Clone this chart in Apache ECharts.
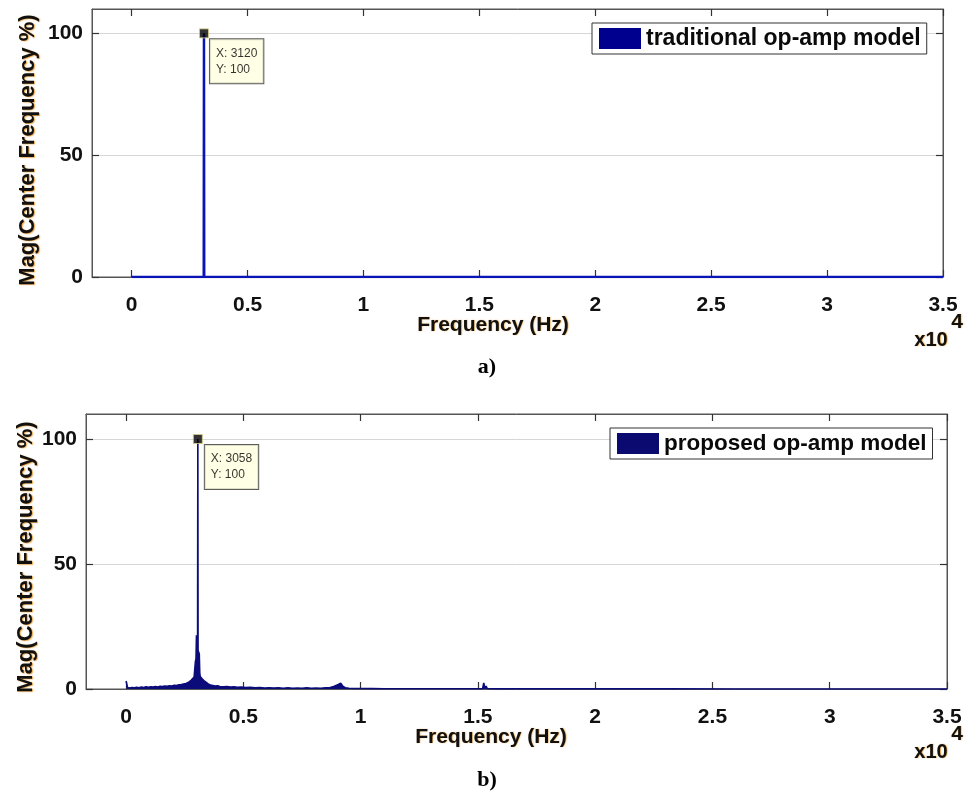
<!DOCTYPE html>
<html>
<head>
<meta charset="utf-8">
<script src="https://cdn.jsdelivr.net/npm/echarts@6/dist/echarts.min.js"></script>
<style>
html,body{margin:0;padding:0;background:#fff;}
#chart{width:973px;height:801px;}
</style>
</head>
<body>
<div id="chart"></div>
<script>
// ---- data ----
const seriesNames = ['traditional op-amp model', 'proposed op-amp model'];
const xTickValues = [0, 5000, 10000, 15000, 20000, 25000, 30000, 35000];
const yTickValues = [0, 50, 100];

// (a) traditional op-amp model spectrum
const freqA = [0, 3110, 3120, 3130, 9380, 9400, 9420, 15580, 15600, 15620, 35000];
const magA  = [0, 0, 100, 0, 0, 0.8, 0, 0, 0.5, 0, 0];
const peakA = [3120, 100];

// (b) proposed op-amp model spectrum
const freqB = [0, 20, 60, 150, 250, 350, 450, 550, 650, 750, 850, 950, 1050, 1150, 1250, 1350, 1450, 1550, 1650, 1750,
  1850, 1950, 2050, 2150, 2250, 2350, 2450, 2550, 2650, 2720, 2780, 2840, 2900, 2930, 2955, 2980, 2992, 3000, 3035, 3047, 3058,
  3068, 3080, 3120, 3140, 3160, 3200, 3250, 3300, 3360, 3420, 3500, 3600, 3700, 3800, 3900, 4000, 4150, 4300, 4450, 4600,
  4750, 4900, 5100, 5300, 5500, 5700, 5900, 6100, 6300, 6500, 6700, 6900, 7100, 7300, 7500, 7700, 7900, 8100, 8300, 8500,
  8700, 8850, 8950, 9050, 9150, 9200, 9250, 9350, 9500, 9700, 10000, 10500, 11000, 12000, 13000, 14000, 15000, 15200, 15250, 15300,
  15350, 15400, 16000, 18000, 20000, 21250, 21300, 21350, 23000, 26000, 30000, 33450, 33500, 33550, 35000];
const magB = [3.2, 3.0, 0.6, 0.4, 0.6, 0.5, 0.7, 0.5, 0.8, 0.6, 0.9, 0.7, 0.9, 0.8, 1.0, 0.8, 1.1, 1.0, 1.2, 1.1,
  1.3, 1.2, 1.5, 1.4, 1.7, 1.8, 2.0, 2.2, 2.6, 3.0, 3.6, 4.2, 4.8, 5.5, 11.0, 12.0, 12.0, 21.5, 20.5, 12.0, 100,
  15.5, 15.5, 14.0, 6.5, 5.0, 4.5, 4.0, 3.5, 3.0, 2.5, 2.0, 1.6, 1.4, 1.2, 1.3, 1.0, 0.9, 1.0, 0.8, 0.9,
  0.7, 0.8, 0.6, 0.7, 0.5, 0.6, 0.4, 0.5, 0.4, 0.5, 0.3, 0.5, 0.3, 0.4, 0.3, 0.5, 0.3, 0.4, 0.3, 0.5,
  0.6, 1.0, 1.4, 1.8, 2.3, 2.2, 1.0, 0.5, 0.3, 0.2, 0.2, 0.15, 0.1, 0.1, 0.1, 0.1, 0.1, 0.1, 2.4, 0.1,
  1.2, 0.1, 0.05, 0.05, 0.05, 0.05, 0.6, 0.05, 0.05, 0, 0, 0, 0.4, 0, 0];
const peakB = [3058, 100];

// ---- helpers ----
const zip = (xs, ys) => xs.map((x, i) => [x, ys[i]]);
const X_MIN = -1710, X_MAX = 35000;
const FONT = "'Liberation Sans', Arial, sans-serif";
const halo = { textShadowColor: 'rgba(230,140,20,0.85)', textShadowBlur: 1.2, textShadowOffsetX: 0.6, textShadowOffsetY: 0.6 };
const tickStyle = { color: '#333', width: 1.2 };
const lineSt = { color: '#555', width: 1 };

function xAxisFor(gi, pos) {
  return {
    type: 'value', gridIndex: gi, position: pos, min: X_MIN, max: X_MAX,
    axisLine: { show: true, onZero: false, lineStyle: lineSt },
    axisTick: { show: true, inside: true, length: 7, customValues: xTickValues, lineStyle: tickStyle },
    axisLabel: pos === 'bottom'
      ? { show: true, customValues: xTickValues, margin: 18, color: '#111', fontSize: 21, fontWeight: 'bold', fontFamily: FONT,
          formatter: v => String(v / 10000) }
      : { show: false },
    splitLine: { show: false }
  };
}
function yAxisFor(gi, pos) {
  return {
    type: 'value', gridIndex: gi, position: pos, min: 0, max: 110, interval: 50,
    axisLine: { show: true, onZero: false, lineStyle: lineSt },
    axisTick: { show: true, inside: true, length: 7, customValues: yTickValues, lineStyle: tickStyle },
    axisLabel: pos === 'left'
      ? { show: true, customValues: yTickValues, margin: 9, color: '#111', fontSize: 21, fontWeight: 'bold', fontFamily: FONT }
      : { show: false },
    splitLine: { show: pos === 'left', lineStyle: { color: '#d6d6d6', width: 1 } }
  };
}
function legendFor(name, color, left, top, fs) {
  return {
    data: [{ name: name, icon: 'rect', itemStyle: { color: color } }],
    left: left, top: top, orient: 'horizontal',
    backgroundColor: '#fff', borderColor: '#333', borderWidth: 1, borderRadius: 0,
    padding: [4, 6, 4, 7], itemWidth: 42, itemHeight: 21, itemGap: 5, itemTextGap: 5,
    selectedMode: false,
    textStyle: { color: '#0a0a0a', fontSize: fs, fontWeight: 'bold', fontFamily: FONT, lineHeight: 22 }
  };
}
function tipSeries(peak, xi, yi, off) {
  return {
    type: 'scatter', xAxisIndex: xi, yAxisIndex: yi, data: [peak], symbol: 'rect', symbolSize: 9, z: 10,
    itemStyle: { color: '#000', borderColor: '#d8cf8a', borderWidth: 1 },
    label: {
      show: true, position: off, align: 'left', verticalAlign: 'top',
      formatter: p => 'X: ' + p.value[0] + '\nY: ' + p.value[1],
      backgroundColor: '#ffffe0', borderColor: '#333', borderWidth: 1, padding: [6, 6, 6, 6],
      color: '#000', fontSize: 12, lineHeight: 16, fontFamily: FONT
    }
  };
}
function txt(text, x, y, opts, rot) {
  const g = {
    type: 'text', x: x, y: y,
    style: Object.assign({ text: text, fill: '#111', font: 'bold 21px ' + FONT, align: 'center', verticalAlign: 'middle' }, opts || {})
  };
  if (rot) g.rotation = rot;
  return g;
}

const chart = echarts.init(document.getElementById('chart'), null, { renderer: 'canvas' });
chart.setOption({
  animation: false,
  backgroundColor: '#fff',
  grid: [
    { left: 92, top: 9, width: 851, height: 268, show: true, borderColor: '#555', borderWidth: 1 },
    { left: 86, top: 414, width: 861, height: 275, show: true, borderColor: '#555', borderWidth: 1 }
  ],
  xAxis: [xAxisFor(0, 'bottom'), xAxisFor(0, 'top'), xAxisFor(1, 'bottom'), xAxisFor(1, 'top')],
  yAxis: [yAxisFor(0, 'left'), yAxisFor(0, 'right'), yAxisFor(1, 'left'), yAxisFor(1, 'right')],
  legend: [
    legendFor(seriesNames[0], '#00008f', 592, 23, 23),
    legendFor(seriesNames[1], '#0a0a70', 610, 428, 22.5)
  ],
  series: [
    { name: seriesNames[0], type: 'line', xAxisIndex: 0, yAxisIndex: 0, data: zip(freqA, magA),
      showSymbol: false, symbol: 'none', lineStyle: { color: '#0a14b4', width: 2.5 }, itemStyle: { color: '#0a14b4' }, z: 3 },
    { name: seriesNames[1], type: 'line', xAxisIndex: 2, yAxisIndex: 2, data: zip(freqB, magB),
      showSymbol: false, symbol: 'none', lineStyle: { color: '#0b0b7a', width: 1.6 }, itemStyle: { color: '#0b0b7a' },
      areaStyle: { color: '#0b0b7a', opacity: 1 }, z: 3 },
    tipSeries(peakA, 0, 0, [11, 11]),
    tipSeries(peakB, 2, 2, [12, 11])
  ],
  graphic: [
    txt('Mag(Center Frequency %)', 28, 150, Object.assign({ font: 'bold 22px ' + FONT }, halo), Math.PI / 2),
    txt('Mag(Center Frequency %)', 26, 557, Object.assign({ font: 'bold 22px ' + FONT }, halo), Math.PI / 2),
    txt('Frequency (Hz)', 493, 325, Object.assign({ font: 'bold 21px ' + FONT }, halo)),
    txt('Frequency (Hz)', 491, 737, Object.assign({ font: 'bold 21px ' + FONT }, halo)),
    txt('x10', 931, 340, Object.assign({ font: 'bold 20px ' + FONT }, halo)),
    txt('4', 957, 322, Object.assign({ font: 'bold 21px ' + FONT }, halo)),
    txt('x10', 931, 752, Object.assign({ font: 'bold 20px ' + FONT }, halo)),
    txt('4', 957, 734, Object.assign({ font: 'bold 21px ' + FONT }, halo)),
    txt('a)', 487, 367, { font: 'bold 22px "Liberation Serif", "Times New Roman", serif', fill: '#000' }),
    txt('b)', 487, 780, { font: 'bold 22px "Liberation Serif", "Times New Roman", serif', fill: '#000' })
  ]
});
</script>
</body>
</html>
